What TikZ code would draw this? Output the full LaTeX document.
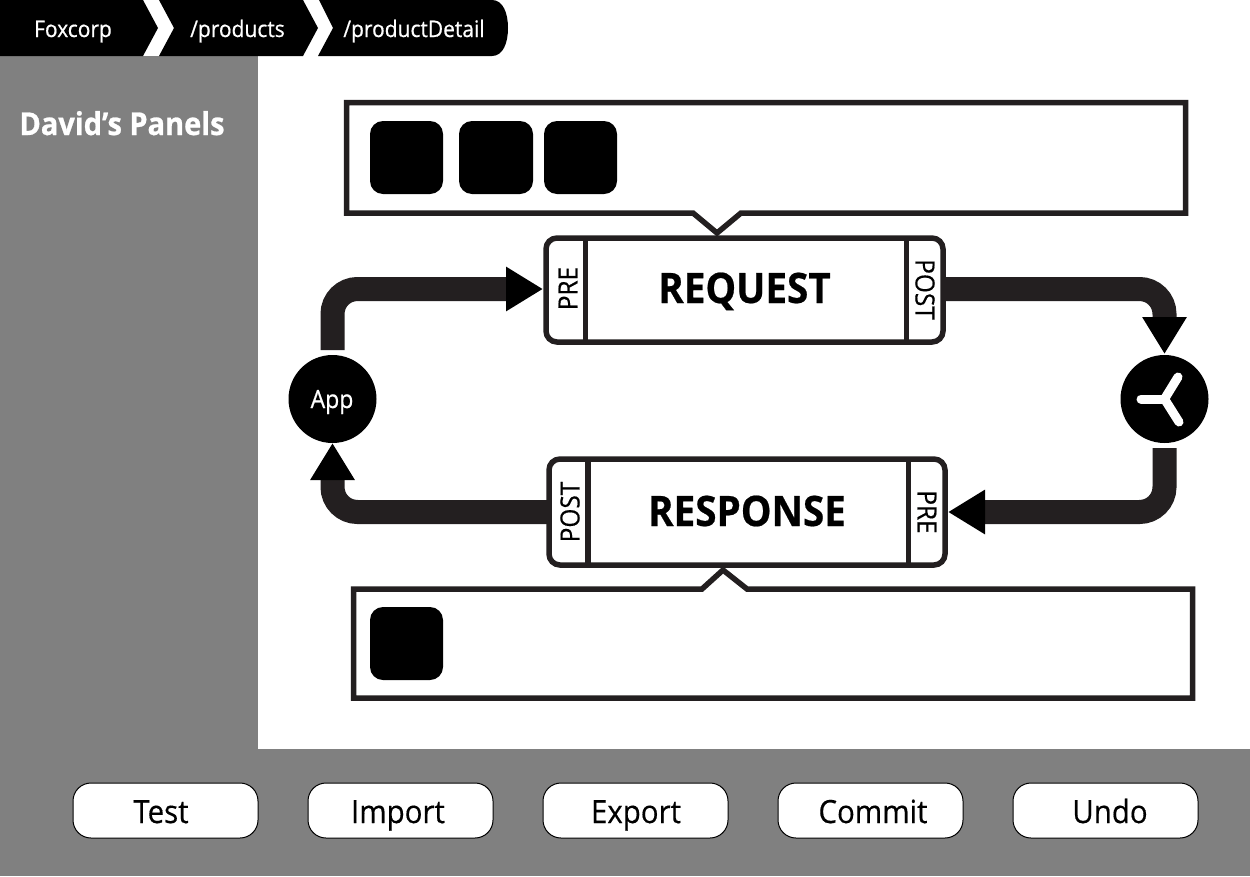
\documentclass[tikz,border=0pt]{standalone}
\usepackage{fontspec}
\setmainfont{Open Sans}
\usetikzlibrary{arrows.meta}
\definecolor{ink}{HTML}{231F20}
\definecolor{panel}{HTML}{808080}
\newcommand{\fsz}[1]{\fontsize{#1}{#1}\selectfont}
\tikzset{
  flow/.style={draw=ink,line width=24pt,rounded corners=25pt,shorten <=5pt,
    -{Triangle[length=37pt,width=42pt,color=black]}},
  flowout/.style={draw=ink,line width=24pt,rounded corners=25pt,
    -{Triangle[length=37pt,width=42pt,color=black]}},
  crumb/.style={fill=black,draw=none},
  crumbtext/.style={text=white,anchor=base,font=\fsz{22.8}\addfontfeature{FakeStretch=0.92,FakeBold=0.6}},
  sidetitle/.style={text=white,anchor=base,font=\fsz{31.5}\bfseries\addfontfeature{FakeStretch=0.92,FakeBold=0.8}},
  tray/.style={draw=ink,line width=5.5pt,fill=white,miter limit=10},
  chip/.style={fill=black,rounded corners=13pt,draw=none},
  stage/.style={draw=ink,line width=5.5pt,fill=white,rounded corners=11pt,inner sep=0pt,outer sep=0pt},
  divider/.style={draw=ink,line width=5.5pt},
  stagetitle/.style={anchor=base,font=\fsz{42}\bfseries\addfontfeature{FakeStretch=0.92,FakeBold=0.5}},
  tag/.style={font=\fsz{26.5}\addfontfeature{FakeStretch=0.92,FakeBold=0.4},inner sep=0pt},
  disc/.style={circle,fill=black,minimum size=88pt,inner sep=0pt,outer sep=0pt},
  btn/.style={draw=black,line width=1pt,fill=white,rounded corners=18pt,minimum width=185pt,minimum height=55pt,inner sep=0pt},
  btntext/.style={anchor=base,font=\fsz{32}\addfontfeature{FakeStretch=0.92,FakeBold=0.4}},
  spoke/.style={draw=white,line width=9pt,line cap=round},
}
\begin{document}
\begin{tikzpicture}[x=1pt,y=-1pt]
\useasboundingbox (0,0) rectangle (1250,876);
\fill[white] (0,0) rectangle (1250,876);
\fill[panel] (0,56) rectangle (258,876);
\fill[panel] (0,749) rectangle (1250,876);
% breadcrumb
\fill[crumb] (0,0) -- (143,0) -- (158,28) -- (143,56) -- (0,56) -- cycle;
\fill[crumb] (159,0) -- (174,28) -- (159,56) -- (303,56) -- (318,28) -- (303,0) -- cycle;
\fill[crumb] (319,0) -- (333,28) -- (318,56) -- (492,56) .. controls (503,56) and (508,43) .. (508,28) .. controls (508,13) and (503,0) .. (492,0) -- cycle;
\node[crumbtext] (c1) at (73,37) {Foxcorp};
\node[crumbtext] (c2) at (237.5,37) {/products};
\node[crumbtext] (c3) at (414,37) {/productDetail};
\node[sidetitle] (side) at (122,135) {David’s Panels};
% trays
\draw[tray] (346.5,102.5) -- (1185.5,102.5) -- (1185.5,213) -- (741,213) -- (717,233) -- (693,213) -- (346.5,213) -- cycle;
\draw[tray] (353.5,589) -- (702,589) -- (723,570) -- (747,589) -- (1192.5,589) -- (1192.5,698) -- (353.5,698) -- cycle;
\fill[chip] (370,121) rectangle (443,194);
\fill[chip] (459,121) rectangle (533,194);
\fill[chip] (544,121) rectangle (617,194);
\fill[chip] (370,607) rectangle (443,680);
% stages
\node[stage,minimum width=397pt,minimum height=104pt] (req) at (744.5,290) {};
\node[stage,minimum width=396pt,minimum height=106pt] (resp) at (747,512) {};
\draw[divider] (585.5,0 |- req.north) -- (585.5,0 |- req.south);
\draw[divider] (906.5,0 |- req.north) -- (906.5,0 |- req.south);
\draw[divider] (588,0 |- resp.north) -- (588,0 |- resp.south);
\draw[divider] (908.5,0 |- resp.north) -- (908.5,0 |- resp.south);
\node[stagetitle] (reqt) at (744.5,303) {REQUEST};
\node[stagetitle] (respt) at (747,526) {RESPONSE};
\node[tag,rotate=90] (t1) at (568,288.5) {PRE};
\node[tag,rotate=-90] (t2) at (925,289.5) {POST};
\node[tag,rotate=90] (t3) at (570,512) {POST};
\node[tag,rotate=-90] (t4) at (927,512) {PRE};
% discs
\node[disc] (app) at (332.5,399) {};
\node[text=white,anchor=base,font=\fsz{25}\addfontfeature{FakeStretch=0.92,FakeBold=0.7}] (appt) at (332,408) {App};
\node[disc] (hub) at (1164.5,399) {};
\draw[spoke] (hub.center) -- (1178,377);
\draw[spoke] (hub.center) -- (1141,399);
\draw[spoke] (hub.center) -- (1179,422);
% connectors
\draw[flow] (app.north) |- ([shift={(-3pt,1pt)}]req.west);
\draw[flowout] ([yshift=1pt]req.east) -| ([yshift=1pt]hub.north);
\draw[flow] (hub.south) |- ([xshift=3pt]resp.east);
\draw[flowout] (resp.west) -| (app.south);
% buttons
\node[btn] (b1) at (165.5,810.5) {};
\node[btn] (b2) at (400.5,810.5) {};
\node[btn] (b3) at (635.5,810.5) {};
\node[btn] (b4) at (870.5,810.5) {};
\node[btn] (b5) at (1105.5,810.5) {};
\node[btntext] (l1) at (161,823) {Test};
\node[btntext] (l2) at (398,823) {Import};
\node[btntext] (l3) at (636,823) {Export};
\node[btntext] (l4) at (873,823) {Commit};
\node[btntext] (l5) at (1110,823) {Undo};
\end{tikzpicture}
\end{document}
